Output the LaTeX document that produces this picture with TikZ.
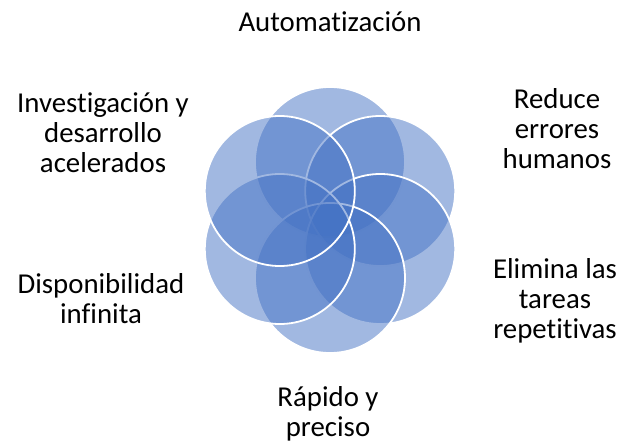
\documentclass[tikz,border=0pt]{standalone}
\usepackage{fontspec}
\usetikzlibrary{calc}
\setmainfont{Carlito}[Ligatures=NoCommon]
\definecolor{accent}{HTML}{4472C4}
\begin{document}
\begin{tikzpicture}[x=1pt,y=-1pt,
  petal/.style={circle,minimum size=150pt,inner sep=0pt,fill=accent,fill opacity=0.5,draw=white,draw opacity=1,line width=1.8pt},
  lbl/.style={align=center,font=\fontsize{28.8}{30}\selectfont,text=black}]
\useasboundingbox (0,0) rectangle (620,446);
\coordinate (c) at (330,220);
\node[petal] (p1) at ($(c)+(0,-58)$) {};
\node[petal] (p2) at ($(c)+(50.2,-29)$) {};
\node[petal] (p3) at ($(c)+(50.2,29)$) {};
\node[petal] (p4) at ($(c)+(0,58)$) {};
\node[petal] (p5) at ($(c)+(-50.2,29)$) {};
\node[petal] (p6) at ($(c)+(-50.2,-29)$) {};
\node[lbl] (t1) at (330,22) {Automatización};
\node[lbl] (t2) at (557,129) {Reduce\\errores\\humanos};
\node[lbl] (t3) at (555,301) {Elimina las\\tareas\\repetitivas};
\node[lbl] (t4) at (328,414) {Rápido y\\preciso};
\node[lbl] (t5) at (101,299) {Disponibilidad\\infinita};
\node[lbl] (t6) at (103,133) {Investigación y\\desarrollo\\acelerados};
\end{tikzpicture}
\end{document}
